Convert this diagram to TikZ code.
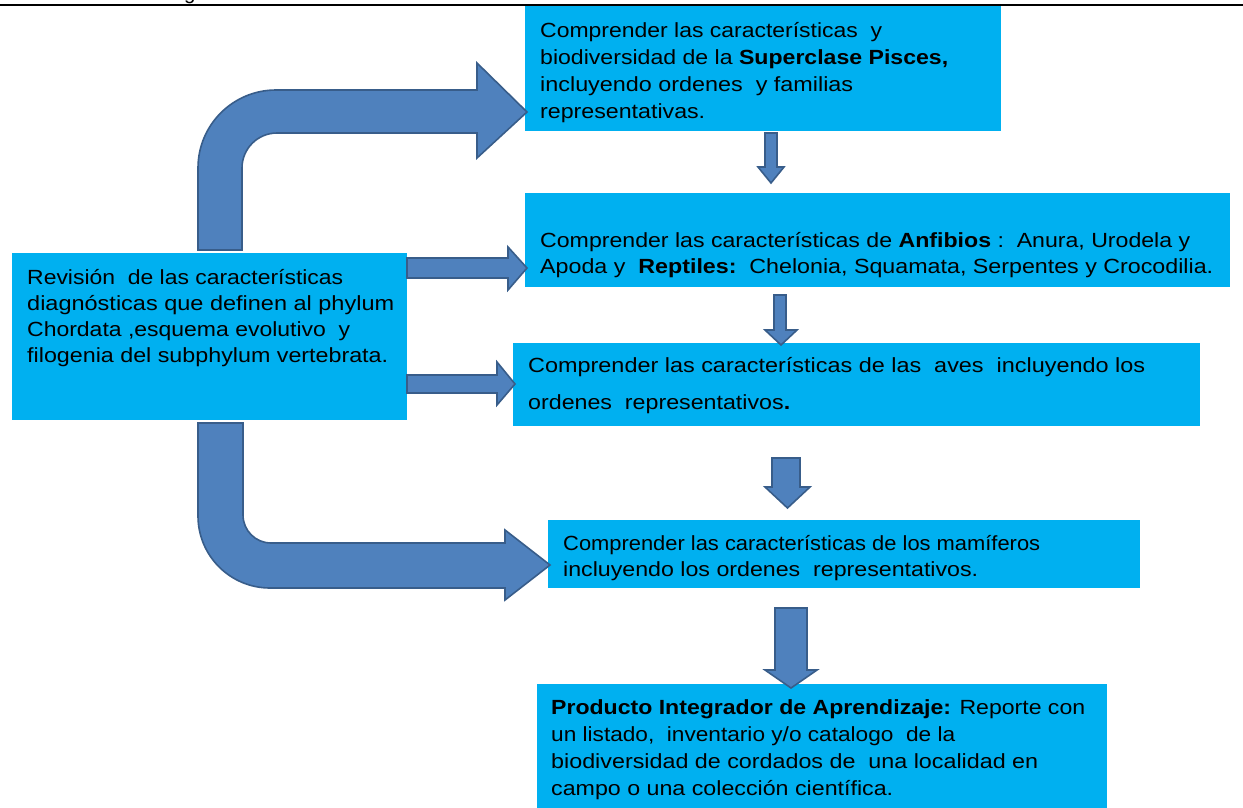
\documentclass[tikz,border=0pt]{standalone}
\usepackage{fontspec}
\setmainfont{Liberation Sans}
\usepackage{graphicx}
\definecolor{boxcyan}{HTML}{00B0F0}
\definecolor{arrfill}{HTML}{4F81BD}
\definecolor{arrline}{HTML}{385D8A}
\newcommand{\tline}[5]{\node[tl] (#1) at (#2,#3) {\resizebox{#4pt}{\height}{#5}};}
\tikzset{
  box/.style={fill=boxcyan, draw=none, inner sep=0pt, anchor=north west},
  tl/.style={anchor=base west, inner sep=0pt, font=\fontsize{20.5}{24}\selectfont, text=black},
  blockarrow/.style={fill=arrfill, draw=arrline, line width=1.6pt, line join=miter}
}
\begin{document}
\begin{tikzpicture}[x=1pt,y=-1pt]
\useasboundingbox[fill=white] (0,0) rectangle (1243,807);
% header fragment and rule
\node[tl] (hdr) at (184,-1) {g};
\draw[line width=2.2pt] (0,5) -- (1243,5);

% boxes
\node[box, minimum width=476pt, minimum height=125pt] (b1) at (525,6) {};
\node[box, minimum width=705pt, minimum height=94pt] (b2) at (525,193) {};
\node[box, minimum width=687pt, minimum height=83pt] (b3) at (513,343) {};
\node[box, minimum width=592pt, minimum height=68pt] (b4) at (548,520) {};
\node[box, minimum width=570pt, minimum height=125pt] (b5) at (537,684) {};
\node[box, minimum width=395pt, minimum height=167pt] (b0) at (12,253) {};

% texts
\tline{t0a}{27}{284}{316}{Revisión\ \ de las características}
\tline{t0b}{27}{310}{367}{diagnósticas que definen al phylum}
\tline{t0c}{27}{336}{323}{Chordata ,esquema evolutivo\ \ y}
\tline{t0d}{27}{362}{361}{filogenia del subphylum vertebrata.}

\tline{t1a}{540}{37}{342}{Comprender las características\ \ y}
\tline{t1b}{540}{64}{408}{biodiversidad de la \textbf{Superclase Pisces,}}
\tline{t1c}{540}{91}{313}{incluyendo ordenes\ \ y familias}
\tline{t1d}{540}{118}{165}{representativas.}

\tline{t2a}{540}{247}{650}{Comprender las características de \textbf{Anfibios}\ :\ \ Anura, Urodela y}
\tline{t2b}{540}{273}{673}{Apoda y\ \ \textbf{Reptiles:}\ \ Chelonia, Squamata, Serpentes y Crocodilia.}

\tline{t3a}{528}{372}{617}{Comprender las características de las\ \ aves\ \ incluyendo los}
\tline{t3b}{528}{409}{262}{ordenes\ \ representativos\textbf{.}}

\tline{t4a}{563}{550}{477}{Comprender las características de los mamíferos}
\tline{t4b}{563}{576}{415}{incluyendo los ordenes\ \ representativos.}

\tline{t5a}{551}{714}{534}{\textbf{Producto Integrador de Aprendizaje:} Reporte con}
\tline{t5b}{551}{741}{404}{un listado,\ \ inventario y/o catalogo\ \ de la}
\tline{t5c}{551}{768}{487}{biodiversidad de cordados de\ \ una localidad en}
\tline{t5d}{551}{795}{342}{campo o una colección científica.}

% bent arrows
\draw[blockarrow] (198,250) -- (198,168) arc[start angle=180,end angle=270,radius=78]
  -- (477,90) -- (477,63) -- (527,112) -- (477,158) -- (477,133) -- (277,133)
  arc[start angle=270,end angle=180,radius=35] -- (242,250) -- cycle;
\draw[blockarrow] (198,423) -- (198,516) arc[start angle=180,end angle=90,radius=72]
  -- (505,588) -- (505,600) -- (550,565) -- (505,530) -- (505,543) -- (271,543)
  arc[start angle=90,end angle=180,radius=28] -- (243,423) -- cycle;

% small right arrows
\draw[blockarrow] (407,258) -- (508,258) -- (508,247) -- (527,268) -- (508,290) -- (508,278) -- (407,278) -- cycle;
\draw[blockarrow] (407,375) -- (497,375) -- (497,362) -- (515,384) -- (497,405) -- (497,393) -- (407,393) -- cycle;

% down arrows
\draw[blockarrow] (765,133) -- (777,133) -- (777,167) -- (784,167) -- (771,183) -- (758,167) -- (765,167) -- cycle;
\draw[blockarrow] (774,295) -- (786,295) -- (786,330) -- (797,330) -- (781,345) -- (765,330) -- (774,330) -- cycle;
\draw[blockarrow] (772,458) -- (800,458) -- (800,487) -- (810,487) -- (787.5,508) -- (765,487) -- (772,487) -- cycle;
\draw[blockarrow] (775,608) -- (807,608) -- (807,670) -- (817,670) -- (791,688) -- (765,670) -- (775,670) -- cycle;
\end{tikzpicture}
\end{document}
